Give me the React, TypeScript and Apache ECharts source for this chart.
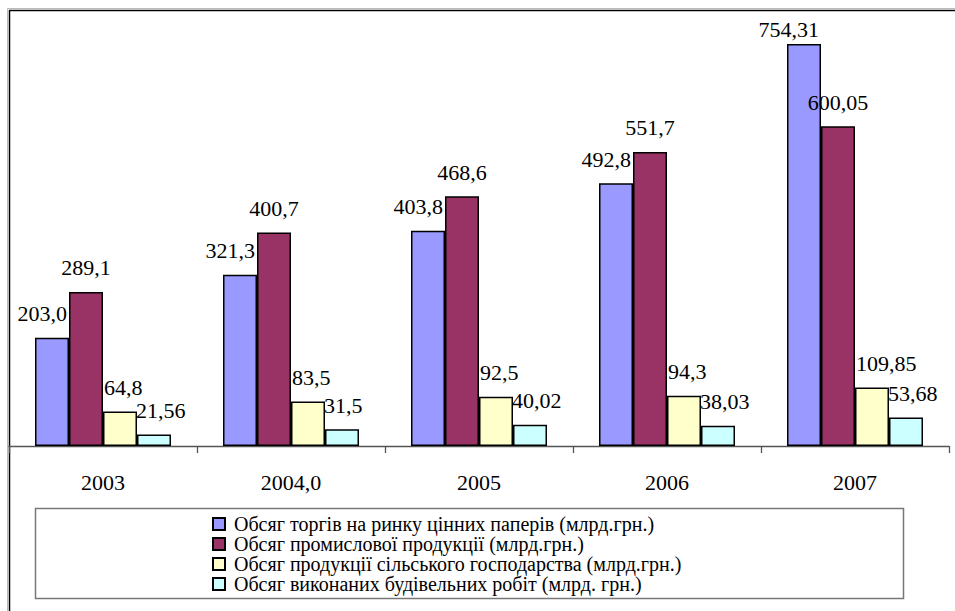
import React, { useEffect, useRef } from "react";
import * as echarts from "echarts";

const categories = ["2003", "2004,0", "2005", "2006", "2007"];
const seriesNames = [
  "Обсяг торгів на ринку цінних паперів (млрд.грн.)",
  "Обсяг промислової продукції (млрд.грн.)",
  "Обсяг продукції сільського господарства (млрд.грн.)",
  "Обсяг виконаних будівельних робіт (млрд. грн.)",
];
const tradeValues = [203.0, 321.3, 403.8, 492.8, 754.31];
const industryValues = [289.1, 400.7, 468.6, 551.7, 600.05];
const agroValues = [64.8, 83.5, 92.5, 94.3, 109.85];
const buildValues = [21.56, 31.5, 40.02, 38.03, 53.68];
const tradeLabels = ["203,0", "321,3", "403,8", "492,8", "754,31"];
const industryLabels = ["289,1", "400,7", "468,6", "551,7", "600,05"];
const agroLabels = ["64,8", "83,5", "92,5", "94,3", "109,85"];
const buildLabels = ["21,56", "31,5", "40,02", "38,03", "53,68"];
const colors = ["#9999FF", "#993366", "#FFFFCC", "#CCFFFF"];

const FONT = "Liberation Serif";

export default function App() {
  const ref = useRef<HTMLDivElement>(null);
  useEffect(() => {
    document.body.style.margin = "0";
    if (!ref.current) return;
    const chart = echarts.init(ref.current, undefined, { renderer: "svg" });
    const values = [tradeValues, industryValues, agroValues, buildValues];
    const labels = [tradeLabels, industryLabels, agroLabels, buildLabels];
    const labelCfg = [
      { align: "right", offset: [15, 0] },
      { align: "center", offset: [0, 0] },
      { align: "left", offset: [-16, 0] },
      { align: "left", offset: [-18, 0] },
    ];
    const yMax = 800;
    const axisY = 446;
    const pxPerUnit = 0.53294;
    chart.setOption({
      animation: false,
      backgroundColor: "#fff",
      textStyle: { fontFamily: FONT },
      grid: {
        left: 9,
        right: 6,
        bottom: 611 - axisY,
        top: axisY - yMax * pxPerUnit,
        containLabel: false,
      },
      xAxis: {
        type: "category",
        data: categories,
        axisLine: { show: true, lineStyle: { color: "#555", width: 1.3 } },
        axisTick: { show: true, length: 7, lineStyle: { color: "#555", width: 1.3 } },
        axisLabel: { fontFamily: FONT, fontSize: 22, color: "#000", margin: 25 },
      },
      yAxis: {
        type: "value",
        min: 0,
        max: yMax,
        show: false,
        splitLine: { show: false },
      },
      legend: {
        orient: "vertical",
        left: 207,
        top: 509,
        itemWidth: 12,
        itemHeight: 12,
        itemGap: 0,
        icon: "rect",
        data: seriesNames,
        textStyle: {
          fontFamily: FONT,
          fontSize: 20,
          color: "#000",
          lineHeight: 20,
          padding: [0, 0, 0, 4],
        },
      },
      graphic: [
        {
          type: "rect",
          shape: { x: 7.5, y: 8.5, width: 1000, height: 700 },
          style: { fill: "none", stroke: "#bbb", lineWidth: 1 },
          silent: true,
        },
        {
          type: "rect",
          shape: { x: 9.5, y: 10.5, width: 1000, height: 700 },
          style: { fill: "none", stroke: "#000", lineWidth: 1.5 },
          silent: true,
        },
        {
          type: "rect",
          shape: { x: 35.5, y: 508.5, width: 868, height: 90 },
          style: { fill: "none", stroke: "#777", lineWidth: 1.5 },
          silent: true,
          z: -1,
        },
      ],
      series: seriesNames.map((name, i) => ({
        name,
        type: "bar",
        data: values[i].map((v) =>
          v * pxPerUnit > 380 ? { value: v, label: { distance: 3 } } : v
        ),
        barGap: "0%",
        barCategoryGap: "27.66%",
        itemStyle: {
          color: colors[i],
          borderColor: "#000",
          borderWidth: 1.5,
        },
        label: {
          show: true,
          position: "top",
          distance: 13,
          align: labelCfg[i].align,
          offset: labelCfg[i].offset,
          fontFamily: FONT,
          fontSize: 22,
          color: "#000",
          formatter: (p: any) => labels[i][p.dataIndex],
        },
      })),
    });
    return () => chart.dispose();
  }, []);
  return <div ref={ref} style={{ width: 955, height: 611 }} />;
}
